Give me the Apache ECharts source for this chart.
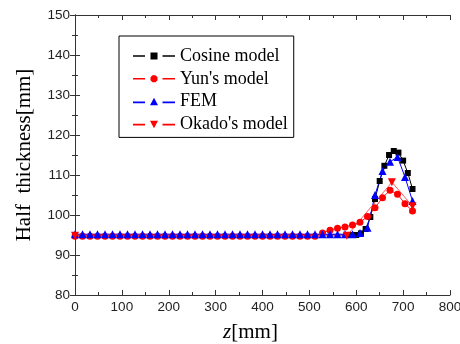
<!DOCTYPE html>
<html>
<head>
<meta charset="utf-8">
<script src="https://cdn.jsdelivr.net/npm/echarts@6/dist/echarts.min.js"></script>
<style>
  html, body { margin: 0; padding: 0; background: #fff; }
  #container { width: 460px; height: 344px; }
</style>
</head>
<body>
<div id="container"></div>
<script>
// values
var seriesNames = ['Cosine model', "Yun's model", 'FEM', "Okado's model"];

var zCosine = [0, 580, 590, 600, 610, 620, 630, 640, 650, 660, 670, 680, 690, 700, 710, 720];
var cosine  = [95, 95, 95, 95, 95.4, 96.5, 99.5, 104, 108.5, 112.3, 115, 116, 115.6, 113.6, 110.5, 106.5];

var zStep = [0, 16, 32, 48, 64, 80, 96, 112, 128, 144, 160, 176, 192, 208, 224, 240,
             256, 272, 288, 304, 320, 336, 352, 368, 384, 400, 416, 432, 448, 464, 480, 496,
             512, 528, 544, 560, 576, 592, 608, 624, 640, 656, 672, 688, 704, 720];

var yun = [94.7, 94.7, 94.7, 94.7, 94.7, 94.7, 94.7, 94.7, 94.7, 94.7, 94.7, 94.7, 94.7, 94.7, 94.7, 94.7,
           94.7, 94.7, 94.7, 94.7, 94.7, 94.7, 94.7, 94.7, 94.7, 94.7, 94.7, 94.7, 94.7, 94.7, 94.7, 94.7,
           94.7, 95.5, 96.2, 96.7, 97.0, 97.5, 98.2, 99.6, 101.8, 104.3, 106.2, 105.2, 102.8, 101.0];

var fem = [95.2, 95.2, 95.2, 95.2, 95.2, 95.2, 95.2, 95.2, 95.2, 95.2, 95.2, 95.2, 95.2, 95.2, 95.2, 95.2,
           95.2, 95.2, 95.2, 95.2, 95.2, 95.2, 95.2, 95.2, 95.2, 95.2, 95.2, 95.2, 95.2, 95.2, 95.2, 95.2,
           95.2, 95.2, 95.2, 95.2, 95.2, 95.2, 95.5, 96.8, 105, 111, 113.3, 114.5, 109.5, 103.5];

var zOkado = [0, 580, 676, 720];
var okado  = [94.8, 94.8, 108.2, 102.2];

function pairs(xs, ys) {
    var out = [];
    for (var i = 0; i < xs.length; i++) out.push([xs[i], ys[i]]);
    return out;
}

var cosineData = pairs(zCosine, cosine);
cosineData[0] = { value: cosineData[0], symbol: 'none' };

// legend icons: line - marker - line, with gaps like the original
var legendIcons = [
    'path://M0,3.2h12v1.6H0z M17.5,0.5h7v7h-7z M29.5,3.2h12.5v1.6H29.5z',
    'path://M0,3.2h12v1.6H0z M19.5,0.5L22.5,0.5L24.5,2.5L24.5,5.5L22.5,7.5L19.5,7.5L17.5,5.5L17.5,2.5z M29.5,3.2h12.5v1.6H29.5z',
    'path://M0,4.2h12v1.6H0z M17,8L21,0.5L25,8z M29.5,4.2h12.5v1.6H29.5z',
    'path://M0,3.2h12v1.6H0z M17,0L25,0L21,7.5z M29.5,3.2h12.5v1.6H29.5z'
];
var legendData = [];
for (var k = 0; k < seriesNames.length; k++) {
    legendData.push({ name: seriesNames[k], icon: legendIcons[k] });
}

var dom = document.getElementById('container');
var myChart = echarts.init(dom);

var tickLabel = { fontFamily: 'Liberation Sans', fontSize: 13.5, color: '#222' };
var axLine = { lineStyle: { color: '#333', width: 1 } };

option = {
    animation: false,
    backgroundColor: '#fff',
    grid: { left: 75, right: 10, top: 15, bottom: 49, outerBoundsMode: 'none' },
    legend: {
        orient: 'vertical',
        left: 119,
        top: 36,
        padding: [11, 6, 4, 14],
        itemGap: 4.8,
        itemWidth: 42,
        itemHeight: 9,
        symbolKeepAspect: true,
        borderColor: '#000',
        borderWidth: 1,
        backgroundColor: '#fff',
        textStyle: { fontFamily: 'Liberation Serif', fontSize: 18, color: '#000' },
        data: legendData
    },
    xAxis: [{
        type: 'value', min: 0, max: 800, interval: 100,
        name: '{i|z}[mm]',
        nameLocation: 'middle',
        nameGap: 27,
        nameMoveOverlap: false,
        nameTextStyle: {
            fontFamily: 'Liberation Serif', fontSize: 21, color: '#000',
            padding: [0, 24, 0, 0],
            rich: { i: { fontFamily: 'Liberation Serif', fontStyle: 'italic', fontSize: 21, color: '#000' } }
        },
        axisLine: axLine,
        axisTick: { inside: true, length: 5, lineStyle: { color: '#333' } },
        minorTick: { show: true, splitNumber: 2, length: 3, lineStyle: { color: '#333' } },
        axisLabel: Object.assign({ margin: 5 }, tickLabel),
        splitLine: { show: false }
    }, {
        type: 'value', min: 0, max: 800, interval: 100, position: 'top',
        axisLine: axLine,
        axisTick: { inside: true, length: 5, lineStyle: { color: '#333' } },
        minorTick: { show: true, splitNumber: 2, length: 3, lineStyle: { color: '#333' } },
        axisLabel: { show: false },
        splitLine: { show: false }
    }],
    yAxis: [{
        type: 'value', min: 80, max: 150, interval: 10,
        name: 'Half  thickness[mm]',
        nameLocation: 'middle',
        nameGap: 40,
        nameMoveOverlap: false,
        nameTextStyle: { fontFamily: 'Liberation Serif', fontSize: 21, color: '#000' },
        axisLine: axLine,
        axisTick: { inside: true, length: 5, lineStyle: { color: '#333' } },
        minorTick: { show: true, splitNumber: 2, length: 3, lineStyle: { color: '#333' } },
        axisLabel: Object.assign({ margin: 5 }, tickLabel),
        splitLine: { show: false }
    }, {
        type: 'value', min: 80, max: 150, interval: 10, position: 'right',
        axisLine: axLine,
        axisTick: { inside: true, length: 5, lineStyle: { color: '#333' } },
        minorTick: { show: true, splitNumber: 2, length: 3, lineStyle: { color: '#333' } },
        axisLabel: { show: false },
        splitLine: { show: false }
    }],
    series: [{
        name: seriesNames[0],
        type: 'line',
        data: cosineData,
        symbol: 'rect',
        symbolSize: 6,
        showAllSymbol: true,
        itemStyle: { color: '#000' },
        lineStyle: { color: '#000', width: 1 }
    }, {
        name: seriesNames[1],
        type: 'line',
        data: pairs(zStep, yun),
        symbol: 'circle',
        symbolSize: 7,
        showAllSymbol: true,
        itemStyle: { color: '#ff0000' },
        lineStyle: { color: '#ff2020', width: 1 }
    }, {
        name: seriesNames[2],
        type: 'line',
        data: pairs(zStep, fem),
        symbol: 'triangle',
        symbolSize: 8,
        showAllSymbol: true,
        itemStyle: { color: '#0000ff' },
        lineStyle: { color: '#0000ff', width: 1 }
    }, {
        name: seriesNames[3],
        type: 'line',
        data: pairs(zOkado, okado),
        symbol: 'triangle',
        symbolRotate: 180,
        symbolSize: 8,
        showAllSymbol: true,
        itemStyle: { color: '#ff0000' },
        lineStyle: { color: '#ff5a5a', width: 1 }
    }]
};

if (option && typeof option === "object") {
    myChart.setOption(option, true);
}
</script>
</body>
</html>
